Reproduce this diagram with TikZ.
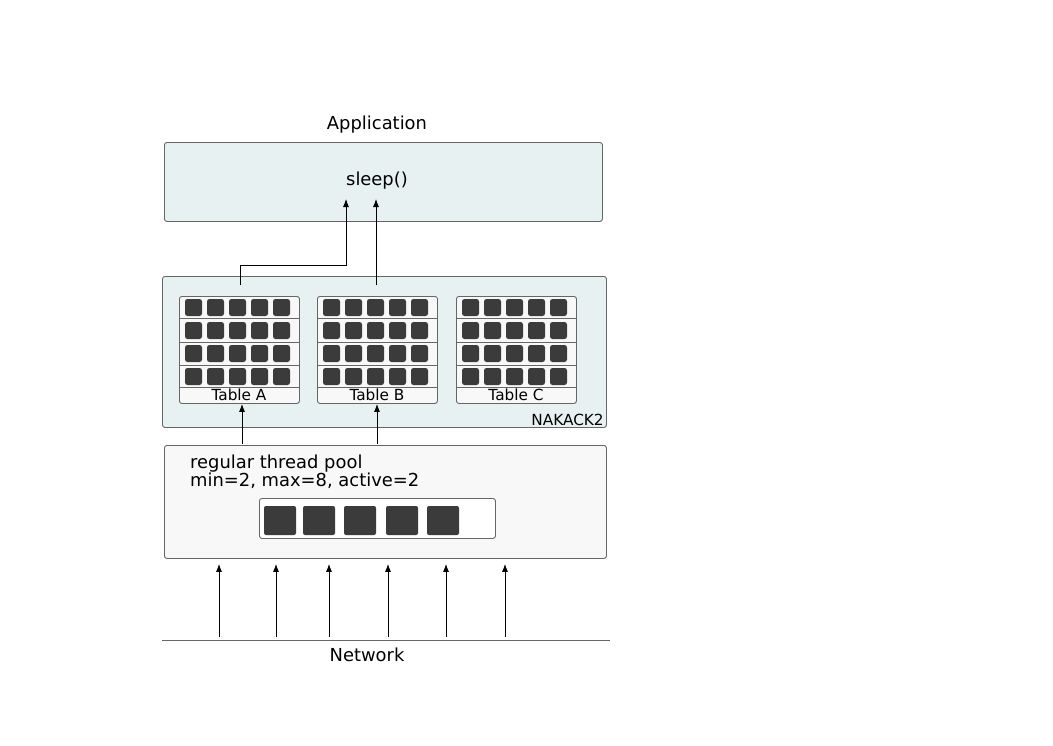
\documentclass[tikz,border=0pt]{standalone}
\usepackage{fontspec}
\setmainfont{DejaVu Sans}
\usetikzlibrary{arrows.meta}
\definecolor{layerfill}{HTML}{E8F1F2}
\definecolor{poolfill}{HTML}{F8F8F8}
\definecolor{slotfill}{HTML}{3B3B3B}
\definecolor{edgegray}{HTML}{666666}
\newcommand{\lbl}{\fontsize{17.9}{19}\selectfont}
\newcommand{\tbl}{\fontsize{15.3}{17}\selectfont}

\begin{document}
\begin{tikzpicture}[x=1pt,y=-1pt,
    layer/.style={draw=edgegray,line width=0.9pt,fill=layerfill,rounded corners=2.5pt,anchor=north west,inner sep=0pt},
    tablebox/.style={draw=edgegray,line width=0.9pt,fill=poolfill,rounded corners=2.5pt,anchor=north west,inner sep=0pt,minimum width=120pt,minimum height=107pt},
    slot/.style={fill=slotfill,rounded corners=2.5pt},
    arr/.style={-{Latex[length=8pt,width=6pt]},line width=0.8pt}]
    \useasboundingbox[fill=white] (0,0) rectangle (1053,745);

    % application
    \node (app) at (164,142) [layer,minimum width=438pt,minimum height=79pt] {};
    \node (appname) at (377,125) {\lbl Application};
    \node (sleep) at (377,181) {\lbl sleep()};

    % NAKACK2 and its tables
    \node (nak) at (162,276) [layer,minimum width=444pt,minimum height=151pt] {};
    \node (nakname) at (nak.south east) [anchor=south east,inner sep=3pt,yshift=-1pt] {\tbl NAKACK2};
    \foreach \tx/\tn in {179/A,317/B,456/C} {
      \node (t\tn) at (\tx,296) [tablebox] {};
      \foreach \ry in {318,342,365,387}
        \draw[edgegray,line width=0.9pt] (\tx,\ry) -- ++(120,0);
      \foreach \ry in {299,322,345,368}
        \foreach \i in {0,...,4}
          \fill[slot] (\tx+6+22*\i,\ry) rectangle ++(17,17);
      \node (t\tn name) at (\tx+60,400) [anchor=base] {\tbl Table \tn};
    }

    % thread pool
    \node (pool) at (164,445) [layer,fill=poolfill,minimum width=442pt,minimum height=113pt] {};
    \node (poolname) at (190,472) [anchor=west,align=left,inner sep=0pt] {\lbl regular thread pool\\\lbl min=2, max=8, active=2};
    \node (queue) at (259,498) [layer,fill=white,minimum width=236pt,minimum height=40pt] {};
    \foreach \qx in {264,303,344,386,427}
      \fill[slot,rounded corners=2pt] (\qx,506) rectangle ++(32,29);

    % network
    \coordinate (netL) at (162,640);
    \coordinate (netR) at (610,640);
    \draw[edgegray,line width=0.9pt] (netL) -- (netR);
    \node (netname) at (367,655) {\lbl Network};

    % connectors
    \foreach \nx [count=\k] in {219,276,329,388,446,505} {
      \coordinate (net\k) at (\nx,637);
      \draw[arr,shorten >=5pt] (net\k) -- (net\k |- pool.south);
    }
    \coordinate (inA) at (242,444);
    \coordinate (inB) at (377,444);
    \draw[arr] (inA) -- (inA |- tA.south);
    \draw[arr] (inB) -- (inB |- tB.south);
    \coordinate (outA) at (240,285);
    \coordinate (outB) at (376,285);
    \coordinate (tipA) at (346,199);
    \coordinate (tipB) at (376,199);
    \draw[arr] (outA) -- ++(0,-20) -| (tipA);
    \draw[arr] (outB) -- (tipB);
\end{tikzpicture}
\end{document}
